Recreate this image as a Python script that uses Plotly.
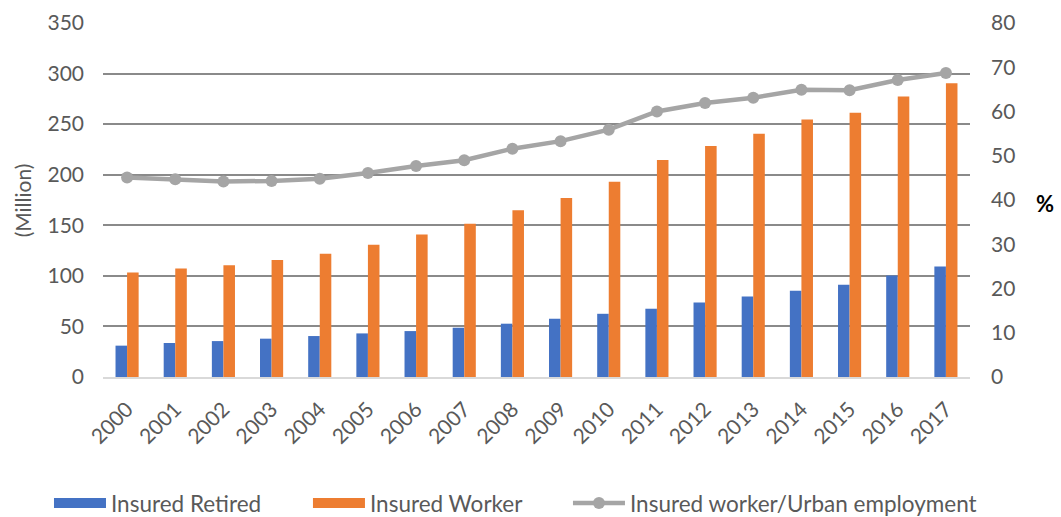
import plotly.graph_objects as go

years = [str(y) for y in range(2000, 2018)]
insured_retired = [31.0, 33.6, 35.5, 37.9, 40.5, 43.1, 45.4, 48.7, 52.7, 57.6,
                   62.5, 67.5, 73.7, 79.6, 85.3, 91.2, 100.4, 109.2]
insured_worker = [103.3, 107.3, 110.5, 115.8, 121.8, 130.7, 140.8, 151.4, 164.8, 177.0,
                  193.1, 214.5, 228.3, 240.5, 254.6, 261.2, 277.3, 290.5]
worker_share = [45.1, 44.7, 44.2, 44.3, 44.8, 46.1, 47.7, 49.0, 51.6, 53.3,
                55.9, 60.0, 61.9, 63.1, 64.9, 64.8, 67.1, 68.7]

FONT = "Lato"
TICK = "#595959"
BLUE, ORANGE, GREY = "#4472C4", "#ED7D31", "#A5A5A5"

fig = go.Figure()
fig.add_trace(go.Bar(x=years, y=insured_retired, name="Insured Retired", showlegend=False,
                     marker=dict(color=BLUE, line=dict(width=0))))
fig.add_trace(go.Bar(x=years, y=insured_worker, name="Insured Worker", showlegend=False,
                     marker=dict(color=ORANGE, line=dict(width=0))))
fig.add_trace(go.Scatter(x=years, y=worker_share, name="Insured worker/Urban employment",
                         yaxis="y2", mode="lines+markers", showlegend=False,
                         line=dict(color=GREY, width=4.5),
                         marker=dict(color=GREY, size=12)))

# legend-only entries, one legend each so they can be placed like the original
fig.add_trace(go.Scatter(x=[None], y=[None], mode="lines", name="Insured Retired",
                         line=dict(color=BLUE, width=14), legend="legend"))
fig.add_trace(go.Scatter(x=[None], y=[None], mode="lines", name="Insured Worker",
                         line=dict(color=ORANGE, width=14), legend="legend2"))
fig.add_trace(go.Scatter(x=[None], y=[None], mode="lines+markers",
                         name="Insured worker/Urban employment", legend="legend3",
                         line=dict(color=GREY, width=4.5), marker=dict(color=GREY, size=12)))


def legend_at(x):
    return dict(orientation="h", x=x, xanchor="left", y=-0.357, yanchor="middle",
                font=dict(size=22.5, color=TICK), itemwidth=52, bgcolor="rgba(0,0,0,0)")


fig.update_layout(
    width=1061, height=517,
    margin=dict(l=103, r=91, t=23, b=140, autoexpand=False),
    paper_bgcolor="white", plot_bgcolor="white",
    barmode="group", bargap=0.52, bargroupgap=0,
    font=dict(family=FONT, size=20, color=TICK),
    xaxis=dict(range=[-0.5, len(years) - 0.5], tickangle=-45, showgrid=False,
               showline=True, linecolor="#D9D9D9", linewidth=1.5, ticks="",
               ticklabelstandoff=10, tickfont=dict(size=21, color=TICK)),
    yaxis=dict(range=[0, 350], dtick=50, showgrid=True, gridcolor="#8A8A8A",
               gridwidth=1.6, zeroline=False, ticks="", ticklabelstandoff=18,
               tickfont=dict(size=21, color=TICK)),
    yaxis2=dict(range=[0, 80], dtick=10, overlaying="y", side="right",
                showgrid=False, zeroline=False, ticklabelstandoff=20,
                tickfont=dict(size=21, color=TICK)),
    legend=legend_at(-0.0623),
    legend2=legend_at(0.2364),
    legend3=legend_at(0.5363),
    annotations=[
        dict(text="(Million)", textangle=-90, x=-0.093, xref="paper", xanchor="center",
             y=0.5, yref="paper", showarrow=False, font=dict(size=21, color=TICK)),
        dict(text="<b>%</b>", x=1.099, xref="paper", y=0.49, yref="paper",
             showarrow=False, font=dict(size=22, color="#000000")),
    ],
)

fig.write_html("out.html", config={"displayModeBar": False},
               post_script="document.body.style.margin='0';")
